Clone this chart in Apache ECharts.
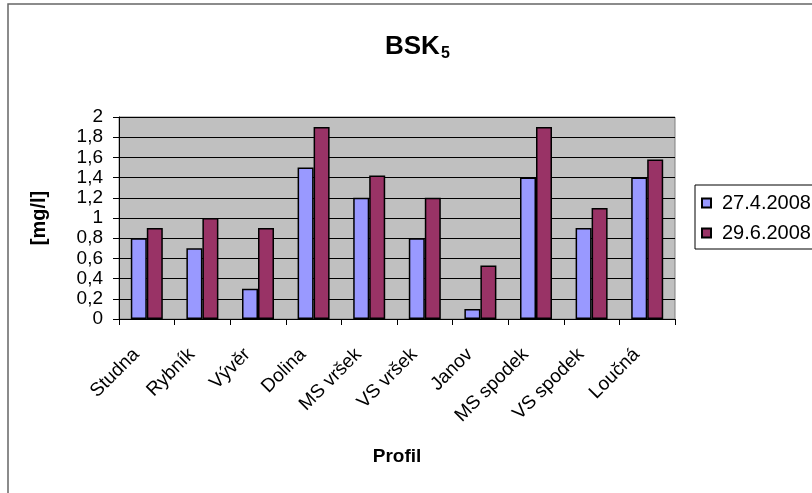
<!DOCTYPE html>
<html>
<head>
<meta charset="utf-8">
<script src="https://cdn.jsdelivr.net/npm/echarts@6/dist/echarts.min.js"></script>
<style>
  html, body { margin: 0; padding: 0; background: #fff; }
  #main { width: 812px; height: 493px; }
</style>
</head>
<body>
<div id="main"></div>
<script>
const chart = echarts.init(document.getElementById('main'));

const profiles = ['Studna', 'Rybník', 'Vývěr', 'Dolina', 'MS vršek', 'VS vršek', 'Janov', 'MS spodek', 'VS spodek', 'Loučná'];
const april = [0.8, 0.7, 0.3, 1.5, 1.2, 0.8, 0.1, 1.4, 0.9, 1.4];
const june = [0.9, 1.0, 0.9, 1.9, 1.42, 1.2, 0.53, 1.9, 1.1, 1.58];
const seriesNames = ['27.4.2008', '29.6.2008'];

const font = 'Arial, "Liberation Sans", sans-serif';

let option = {
    animation: false,
    backgroundColor: '#fff',
    textStyle: { fontFamily: font },
    graphic: [{
        type: 'rect',
        shape: { x: 8, y: 4, width: 820, height: 500 },
        style: { fill: 'none', stroke: '#666', lineWidth: 1.5 },
        z: 0
    }],
    title: {
        text: '{a|BSK}{b|5}',
        left: 380,
        top: 26,
        textStyle: {
            rich: {
                a: { fontSize: 26, fontWeight: 'bold', color: '#000', fontFamily: font },
                b: { fontSize: 16, color: '#000', fontFamily: font, padding: [15, 0, 0, 1] }
            }
        }
    },
    legend: {
        orient: 'vertical',
        left: 695,
        top: 185,
        borderColor: '#000',
        borderWidth: 1,
        padding: [8, 30, 6, 6],
        itemGap: 10,
        itemWidth: 9,
        itemHeight: 9,
        icon: 'rect',
        textStyle: { fontSize: 20, color: '#000', fontFamily: font, padding: [0, 0, 0, 6] },
        data: seriesNames
    },
    grid: { left: 119, right: 137, top: 117, bottom: 174, show: true, backgroundColor: '#c0c0c0', borderColor: '#808080', borderWidth: 1 },
    xAxis: {
        type: 'category',
        data: profiles,
        name: 'Profil',
        nameLocation: 'middle',
        nameGap: 128,
        nameTextStyle: { fontSize: 19, fontWeight: 'bold', color: '#000', fontFamily: font },
        axisLine: { lineStyle: { color: '#000' } },
        axisTick: { show: true, alignWithLabel: false, length: 6, lineStyle: { color: '#000' } },
        axisLabel: { rotate: 45, fontSize: 19, color: '#000', margin: 22, padding: [0, 15, 0, 0], fontFamily: font, interval: 0 }
    },
    yAxis: {
        type: 'value',
        min: 0,
        max: 2,
        interval: 0.2,
        name: '[mg/l]',
        nameLocation: 'middle',
        nameRotate: 90,
        nameGap: 70,
        nameTextStyle: { fontSize: 20, fontWeight: 'bold', color: '#000', fontFamily: font },
        axisLine: { show: true, lineStyle: { color: '#000' } },
        axisTick: { show: true, length: 6, lineStyle: { color: '#000' } },
        splitLine: { lineStyle: { color: '#000', width: 1 } },
        axisLabel: {
            fontSize: 19, color: '#000', margin: 16, fontFamily: font, lineHeight: 19,
            formatter: v => String(Math.round(v * 10) / 10).replace('.', ',')
        }
    },
    series: [{
        name: seriesNames[0],
        type: 'bar',
        data: april,
        barWidth: 16,
        barGap: '0%',
        itemStyle: { color: '#9999ff', borderColor: '#000', borderWidth: 1.5 }
    }, {
        name: seriesNames[1],
        type: 'bar',
        data: june,
        barWidth: 16,
        barGap: '0%',
        itemStyle: { color: '#993366', borderColor: '#000', borderWidth: 1.5 }
    }]
};

chart.setOption(option);
</script>
</body>
</html>
